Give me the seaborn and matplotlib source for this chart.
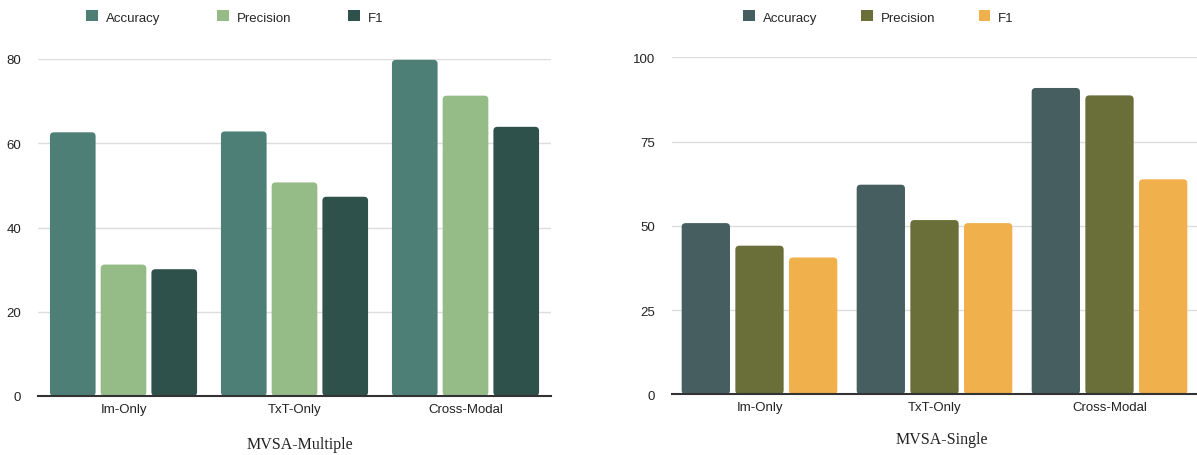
#!/usr/bin/env python3
import matplotlib
matplotlib.use('Agg')
import matplotlib.pyplot as plt
from matplotlib.patches import FancyBboxPatch, Patch
import pandas as pd
import seaborn as sns

sns.set_theme(style='white')
plt.rcParams['font.family'] = ['Liberation Sans', 'DejaVu Sans']

categories = ['Im-Only', 'TxT-Only', 'Cross-Modal']
metrics = ['Accuracy', 'Precision', 'F1']

# MVSA-Multiple
multi_accuracy = [62.6, 62.8, 79.8]
multi_precision = [31.2, 50.7, 71.3]
multi_f1 = [30.1, 47.3, 63.9]

# MVSA-Single
single_accuracy = [50.8, 62.2, 90.9]
single_precision = [44.1, 51.7, 88.7]
single_f1 = [40.6, 50.8, 63.8]

multi_colors = ['#4e7f76', '#95bb87', '#2f514c']
single_colors = ['#465e60', '#6a6e38', '#f0b04c']


def to_long(acc, prec, f1):
    rows = []
    for vals, m in zip([acc, prec, f1], metrics):
        for c, v in zip(categories, vals):
            rows.append({'category': c, 'metric': m, 'value': v})
    return pd.DataFrame(rows)


def round_bars(fig, ax, radius_px=4):
    bb = ax.get_window_extent()
    x0, x1 = ax.get_xlim()
    y0, y1 = ax.get_ylim()
    px_x = (x1 - x0) / bb.width
    px_y = (y1 - y0) / bb.height
    aspect = px_y / px_x
    bars = [p for p in ax.patches]
    for p in bars:
        x, y = p.get_x(), p.get_y()
        w, h = p.get_width(), p.get_height()
        fc = p.get_facecolor()
        p.remove()
        ax.add_patch(FancyBboxPatch(
            (x, y), w, h,
            boxstyle=f'round,pad=0,rounding_size={radius_px * px_x}',
            mutation_aspect=aspect, facecolor=fc, edgecolor='none',
            zorder=2,
        ))


def draw(fig, ax, df, colors, ymax, yticks, width):
    sns.barplot(
        data=df, x='category', y='value', hue='metric',
        order=categories, hue_order=metrics, palette=colors, saturation=1,
        width=width, gap=0.1, legend=False, ax=ax, zorder=2,
    )
    ax.set_xlim(-0.5, 2.5)
    ax.set_ylim(0, ymax)
    ax.set_yticks(yticks)
    ax.set_xlabel('')
    ax.set_ylabel('')
    for s in ['top', 'right', 'left']:
        ax.spines[s].set_visible(False)
    ax.spines['bottom'].set_color('#333333')
    ax.spines['bottom'].set_linewidth(1.5)
    ax.spines['bottom'].set_zorder(3)
    ax.yaxis.grid(True, color='#dddddd', linewidth=1)
    ax.set_axisbelow(True)
    ax.tick_params(axis='both', length=0, labelsize=9.5, colors='#222222')
    ax.tick_params(axis='y', pad=12)
    ax.tick_params(axis='x', pad=5)
    fig.canvas.draw()
    round_bars(fig, ax)


fig = plt.figure(figsize=(11.97, 4.56), dpi=100)
ax1 = fig.add_axes([38 / 1197, 1 - 397 / 456, 513 / 1197, 337 / 456])
ax2 = fig.add_axes([672 / 1197, 1 - 395.3 / 456, 525 / 1197, 337 / 456])

draw(fig, ax1, to_long(multi_accuracy, multi_precision, multi_f1),
     multi_colors, 80, [0, 20, 40, 60, 80], 0.89)
draw(fig, ax2, to_long(single_accuracy, single_precision, single_f1),
     single_colors, 100, [0, 25, 50, 75, 100], 0.92)

for colors, x, cs in [(multi_colors, 86 / 1197, 4.3), (single_colors, 743 / 1197, 3.3)]:
    handles = [Patch(facecolor=c, edgecolor='none') for c in colors]
    fig.legend(
        handles, metrics, loc='center left', bbox_to_anchor=(x, 1 - 18 / 456),
        ncol=3, frameon=False, fontsize=9.5, handlelength=0.9, handleheight=0.9,
        handletextpad=0.6, columnspacing=cs, borderaxespad=0, borderpad=0,
    )

fig.text(300 / 1197, 1 - 445 / 456, 'MVSA-Multiple', ha='center', va='center',
         family='Liberation Serif', fontsize=11.5, color='#222222')
fig.text(942 / 1197, 1 - 440 / 456, 'MVSA-Single', ha='center', va='center',
         family='Liberation Serif', fontsize=11.5, color='#222222')

fig.savefig('out.png', dpi=100)
